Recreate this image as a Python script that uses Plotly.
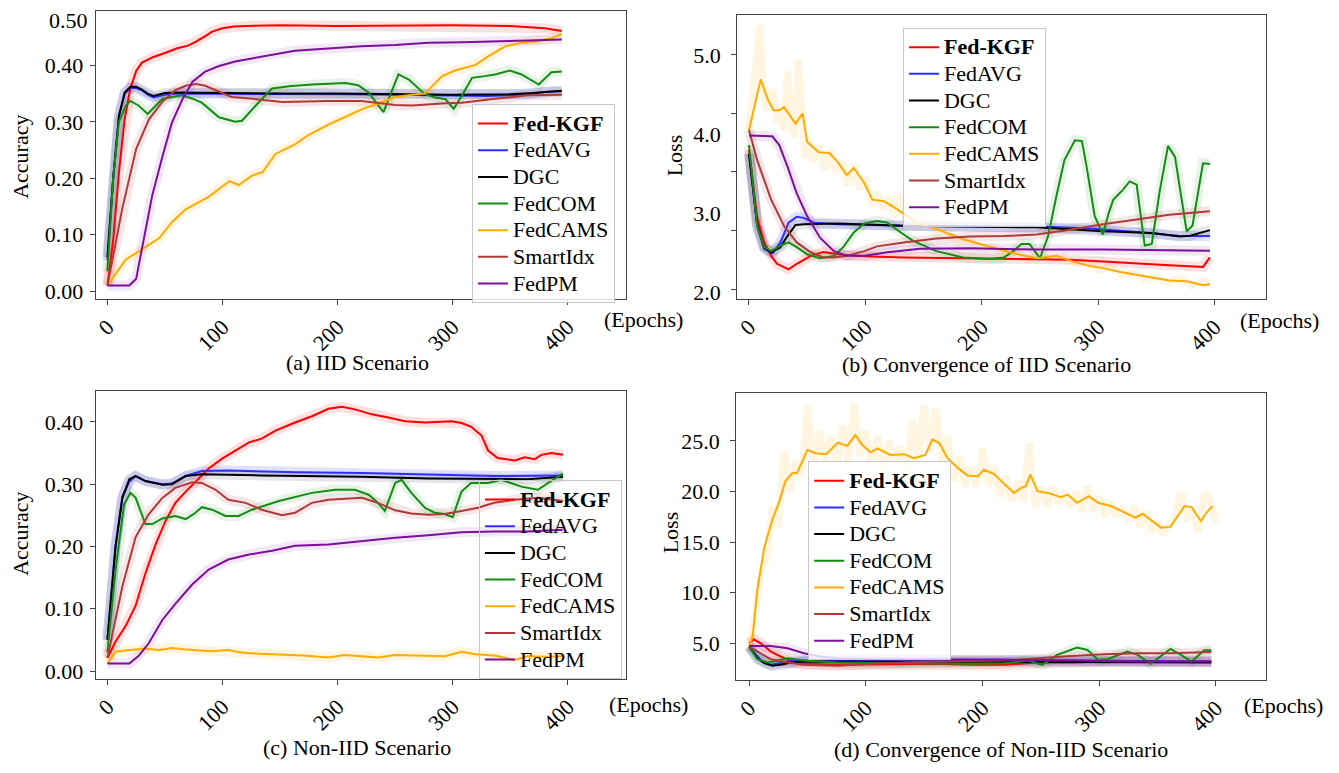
import plotly.graph_objects as go

FONT = "Liberation Serif"
PAGE_W, PAGE_H = 1339, 773
OFF = 8  # default page margin around the figure
W, H = PAGE_W - OFF, PAGE_H - OFF

METHODS = ["Fed-KGF", "FedAVG", "DGC", "FedCOM", "FedCAMS", "SmartIdx", "FedPM"]
COLORS = ["#ff0000", "#2f2fff", "#000000", "#148c14", "#ffab00", "#b03a3a", "#7d0f9c"]
BANDS = ["rgba(255,0,0,0.12)", "rgba(60,60,255,0.16)", "rgba(40,40,80,0.12)",
         "rgba(20,140,20,0.10)", "rgba(255,171,0,0.12)", "rgba(176,58,58,0.12)",
         "rgba(125,15,156,0.10)"]
X_TICKS = [0, 100, 200, 300, 400]

# ---------------- (a) IID accuracy ----------------
A_KGF_X = [0, 5, 10, 15, 20, 25, 30, 40, 50, 60, 70, 77, 85, 91, 100, 110, 120, 150, 200, 250, 300, 350, 380, 395]
A_KGF_Y = [0.01, 0.09, 0.21, 0.305, 0.36, 0.39, 0.405, 0.415, 0.422, 0.43, 0.435, 0.442, 0.452, 0.46, 0.466, 0.469, 0.470, 0.471, 0.470, 0.471, 0.471, 0.470, 0.466, 0.461]
A_AVG_X = [0, 5, 10, 15, 20, 25, 30, 35, 40, 45, 50, 60, 100, 150, 200, 250, 300, 330, 350, 365, 380, 395]
A_AVG_Y = [0.055, 0.2, 0.31, 0.35, 0.36, 0.36, 0.356, 0.348, 0.343, 0.345, 0.348, 0.35, 0.35, 0.349, 0.349, 0.348, 0.346, 0.346, 0.347, 0.349, 0.353, 0.354]
A_DGC_X = [0, 5, 10, 15, 20, 25, 30, 35, 40, 45, 50, 60, 100, 150, 200, 250, 300, 350, 370, 395]
A_DGC_Y = [0.06, 0.2, 0.31, 0.352, 0.362, 0.362, 0.357, 0.35, 0.346, 0.348, 0.351, 0.352, 0.351, 0.35, 0.35, 0.349, 0.348, 0.349, 0.351, 0.355]
A_COM_X = [0, 5, 10, 16, 20, 27, 35, 42, 48, 65, 74, 82, 97, 111, 117, 129, 143, 158, 178, 207, 218, 227, 240, 253, 262, 276, 285, 294, 301, 308, 317, 328, 337, 350, 360, 375, 386, 395]
A_COM_Y = [0.035, 0.2, 0.3, 0.329, 0.337, 0.329, 0.314, 0.329, 0.341, 0.347, 0.341, 0.334, 0.308, 0.30, 0.302, 0.329, 0.359, 0.363, 0.366, 0.369, 0.365, 0.352, 0.317, 0.384, 0.375, 0.349, 0.343, 0.34, 0.323, 0.346, 0.378, 0.381, 0.384, 0.391, 0.384, 0.366, 0.388, 0.389]
A_CAMS_X = [0, 16, 27, 39, 45, 56, 68, 77, 88, 106, 114, 126, 135, 146, 163, 175, 192, 207, 221, 236, 250, 265, 276, 291, 302, 320, 331, 346, 360, 372, 386, 395]
A_CAMS_Y = [0.01, 0.056, 0.07, 0.085, 0.094, 0.122, 0.145, 0.155, 0.167, 0.195, 0.188, 0.205, 0.211, 0.243, 0.26, 0.277, 0.295, 0.309, 0.322, 0.333, 0.344, 0.348, 0.35, 0.381, 0.391, 0.401, 0.416, 0.434, 0.44, 0.442, 0.448, 0.456]
A_SMART_X = [0, 13, 25, 36, 48, 59, 68, 77, 85, 97, 108, 126, 152, 192, 221, 250, 265, 294, 308, 337, 366, 395]
A_SMART_Y = [0.01, 0.147, 0.252, 0.304, 0.336, 0.356, 0.364, 0.367, 0.364, 0.354, 0.344, 0.341, 0.335, 0.337, 0.337, 0.33, 0.329, 0.333, 0.334, 0.341, 0.347, 0.348]
A_PM_X = [0, 19, 25, 30, 39, 48, 56, 65, 74, 85, 97, 111, 135, 163, 192, 221, 250, 279, 308, 337, 366, 395]
A_PM_Y = [0.01, 0.01, 0.022, 0.076, 0.17, 0.24, 0.298, 0.339, 0.371, 0.389, 0.399, 0.407, 0.416, 0.426, 0.43, 0.434, 0.436, 0.44, 0.441, 0.442, 0.444, 0.446]

# ---------------- (b) IID loss ----------------
B_KGF_X = [0, 7, 13, 19, 24, 34, 41, 53, 64, 76, 84, 99, 133, 190, 247, 276, 304, 333, 361, 390, 396]
B_KGF_Y = [3.8, 2.95, 2.63, 2.46, 2.36, 2.29, 2.36, 2.46, 2.51, 2.48, 2.47, 2.455, 2.44, 2.43, 2.42, 2.41, 2.39, 2.36, 2.34, 2.32, 2.44]
B_AVG_X = [0, 7, 13, 20, 27, 34, 41, 47, 56, 76, 133, 190, 247, 290, 333, 370, 396]
B_AVG_Y = [3.75, 2.84, 2.55, 2.49, 2.63, 2.88, 2.955, 2.94, 2.88, 2.86, 2.84, 2.83, 2.83, 2.81, 2.76, 2.71, 2.71]
B_DGC_X = [0, 7, 13, 19, 27, 33, 40, 47, 76, 133, 190, 247, 304, 347, 370, 379, 396]
B_DGC_Y = [3.75, 2.86, 2.57, 2.505, 2.57, 2.71, 2.85, 2.86, 2.87, 2.84, 2.83, 2.82, 2.77, 2.75, 2.705, 2.715, 2.785]
B_COM_X = [0, 7, 13, 19, 27, 34, 41, 50, 61, 73, 81, 90, 99, 110, 119, 127, 141, 161, 184, 207, 219, 227, 234, 241, 250, 257, 264, 271, 280, 286, 290, 297, 304, 309, 313, 321, 327, 333, 340, 346, 353, 360, 366, 376, 381, 390, 396]
B_COM_Y = [3.86, 2.84, 2.57, 2.52, 2.59, 2.63, 2.57, 2.48, 2.43, 2.46, 2.57, 2.755, 2.87, 2.90, 2.88, 2.79, 2.65, 2.52, 2.44, 2.42, 2.44, 2.52, 2.61, 2.61, 2.43, 2.71, 3.21, 3.67, 3.92, 3.91, 3.59, 2.96, 2.73, 3.0, 3.17, 3.29, 3.40, 3.36, 2.59, 2.61, 3.29, 3.85, 3.71, 2.77, 2.84, 3.63, 3.62]
B_CAMS_X = [0, 10, 16, 21, 26, 30, 40, 46, 50, 60, 69, 76, 84, 90, 99, 106, 116, 127, 144, 161, 184, 207, 224, 239, 247, 264, 276, 290, 304, 319, 333, 347, 361, 376, 390, 396]
B_CAMS_Y = [4.05, 4.69, 4.44, 4.3, 4.3, 4.34, 4.13, 4.26, 3.9, 3.77, 3.76, 3.65, 3.48, 3.57, 3.38, 3.17, 3.15, 3.05, 2.88, 2.8, 2.67, 2.57, 2.505, 2.455, 2.43, 2.46, 2.4, 2.34, 2.305, 2.255, 2.22, 2.18, 2.15, 2.14, 2.09, 2.1]
B_CAMS_RAW_X = [0, 3, 6, 9, 12, 15, 18, 21, 24, 27, 30, 33, 36, 39, 42, 45, 48, 51, 55, 60, 65, 70, 75, 80, 85, 90, 95, 100, 105, 110, 115, 120, 125, 130, 135, 140, 145, 150, 160, 170, 180, 190, 200, 210, 220, 230, 240, 250, 260, 270, 280, 290, 300, 310, 320, 330, 340, 350, 360, 370, 380, 390, 396]
B_CAMS_RAW_Y = [4.05, 4.4, 4.9, 5.37, 4.6, 4.3, 4.5, 4.55, 4.15, 4.35, 4.05, 4.79, 4.2, 3.95, 4.94, 4.4, 3.7, 3.95, 3.65, 3.85, 3.55, 3.8, 3.5, 3.65, 3.35, 3.62, 3.3, 3.45, 3.1, 3.27, 3.05, 3.2, 2.95, 3.25, 2.9, 3.1, 2.8, 2.95, 2.75, 2.78, 2.62, 2.65, 2.55, 2.58, 2.5, 2.52, 2.42, 2.47, 2.42, 2.45, 2.36, 2.38, 2.28, 2.32, 2.22, 2.25, 2.16, 2.2, 2.12, 2.18, 2.08, 2.15, 2.1]
B_SMART_X = [0, 7, 19, 30, 41, 53, 64, 73, 84, 99, 110, 133, 161, 190, 219, 247, 276, 304, 333, 361, 396]
B_SMART_Y = [4.05, 3.67, 3.17, 2.84, 2.63, 2.505, 2.44, 2.44, 2.46, 2.52, 2.58, 2.63, 2.68, 2.705, 2.71, 2.73, 2.79, 2.86, 2.92, 2.98, 3.025]
B_PM_X = [0, 20, 26, 33, 41, 50, 61, 73, 84, 99, 119, 147, 190, 247, 304, 361, 396]
B_PM_Y = [3.98, 3.97, 3.86, 3.59, 3.25, 2.96, 2.69, 2.52, 2.46, 2.46, 2.505, 2.55, 2.555, 2.54, 2.54, 2.53, 2.525]

# ---------------- (c) Non-IID accuracy ----------------
C_KGF_X = [0, 7, 16, 24.5, 33, 42, 50.5, 59, 68, 76.5, 88, 99.6, 111, 123, 134, 146, 163, 177.6, 192, 203.6, 215, 229.6, 244, 258.5, 276, 290, 299, 307.6, 316, 325, 330.7, 339, 354, 362.5, 371, 377, 385.6, 395.7]
C_KGF_Y = [0.021, 0.047, 0.073, 0.105, 0.157, 0.204, 0.241, 0.27, 0.288, 0.304, 0.325, 0.341, 0.354, 0.367, 0.373, 0.386, 0.399, 0.409, 0.421, 0.424, 0.42, 0.412, 0.407, 0.401, 0.399, 0.40, 0.401, 0.398, 0.392, 0.378, 0.354, 0.342, 0.338, 0.343, 0.34, 0.347, 0.35, 0.347]
C_AVG_X = [0, 7, 13, 19, 24.5, 33, 47.7, 56, 68, 82, 105, 163, 221, 279, 336, 395.7]
C_AVG_Y = [0.05, 0.2, 0.28, 0.304, 0.313, 0.305, 0.30, 0.301, 0.313, 0.321, 0.322, 0.319, 0.318, 0.315, 0.313, 0.314]
C_DGC_X = [0, 7, 13, 19, 24.5, 33, 47.7, 56, 68, 82, 134, 221, 279, 336, 365, 395.7]
C_DGC_Y = [0.05, 0.199, 0.278, 0.308, 0.313, 0.305, 0.299, 0.30, 0.313, 0.316, 0.314, 0.312, 0.309, 0.308, 0.308, 0.312]
C_COM_X = [0, 7, 14.4, 20, 24.5, 33, 39, 47.7, 59, 68, 76.5, 82, 91, 102.5, 114, 125.6, 149, 177.6, 198, 215, 227, 235, 241, 250, 255.6, 264, 276, 284.5, 293, 300, 307.6, 316, 330.7, 342, 359.6, 374, 383, 395.7]
C_COM_Y = [0.03, 0.162, 0.267, 0.286, 0.278, 0.236, 0.236, 0.245, 0.249, 0.244, 0.254, 0.263, 0.259, 0.249, 0.249, 0.259, 0.273, 0.286, 0.291, 0.291, 0.283, 0.27, 0.257, 0.302, 0.307, 0.286, 0.262, 0.254, 0.252, 0.247, 0.288, 0.302, 0.302, 0.307, 0.296, 0.291, 0.302, 0.317]
C_CAMS_X = [0, 7, 19, 33, 45, 56, 66, 76.5, 90, 105, 112, 120, 135, 149, 170, 192, 206, 221, 235, 250, 265, 279, 293, 307.6, 320, 336, 354, 365, 380, 395.7]
C_CAMS_Y = [0.012, 0.031, 0.034, 0.036, 0.034, 0.037, 0.035, 0.034, 0.032, 0.034, 0.031, 0.029, 0.028, 0.026, 0.025, 0.022, 0.026, 0.024, 0.022, 0.026, 0.025, 0.025, 0.024, 0.031, 0.027, 0.025, 0.018, 0.024, 0.023, 0.024]
C_SMART_X = [0, 13, 24.5, 36, 47.7, 59, 73.6, 82, 94, 105, 120, 134, 151.6, 163, 177.6, 192, 221, 235, 250, 264, 279, 293, 307.6, 322, 336, 354, 374, 395.7]
C_SMART_Y = [0.021, 0.136, 0.215, 0.252, 0.278, 0.294, 0.303, 0.302, 0.291, 0.275, 0.27, 0.259, 0.25, 0.254, 0.27, 0.275, 0.278, 0.27, 0.258, 0.253, 0.251, 0.252, 0.257, 0.262, 0.27, 0.275, 0.278, 0.273]
C_PM_X = [0, 19, 27, 36, 47.7, 59, 73.6, 88, 105, 123, 143, 163, 192, 221, 250, 279, 307.6, 336, 365, 395.7]
C_PM_Y = [0.012, 0.012, 0.024, 0.045, 0.082, 0.108, 0.139, 0.163, 0.179, 0.187, 0.193, 0.201, 0.203, 0.209, 0.214, 0.218, 0.223, 0.224, 0.224, 0.227]

# ---------------- (d) Non-IID loss ----------------
D_KGF_X = [0, 4, 10, 18.6, 33, 47, 76, 133, 161, 190, 219, 247, 276, 304, 333, 361, 396]
D_KGF_Y = [5.0, 5.39, 5.0, 4.18, 3.36, 2.97, 2.87, 2.97, 2.97, 2.87, 2.87, 3.1, 3.1, 3.2, 3.2, 3.2, 3.2]
D_AVG_X = [0, 10, 18.6, 33, 47, 104, 219, 333, 396]
D_AVG_Y = [4.67, 3.36, 2.87, 3.2, 3.29, 3.36, 3.36, 3.29, 3.2]
D_DGC_X = [0, 7, 13, 20, 27, 36, 47, 104, 219, 333, 396]
D_DGC_Y = [4.67, 3.52, 3.03, 2.77, 2.87, 3.1, 3.2, 3.2, 3.2, 3.13, 3.1]
D_COM_X = [0, 7, 16, 21, 33, 47, 76, 133, 190, 219, 239, 251, 264, 281, 290, 299, 307, 324, 333, 344, 361, 370, 379, 390, 396]
D_COM_Y = [4.67, 3.42, 3.1, 3.2, 3.52, 3.29, 3.1, 3.03, 2.97, 3.03, 3.29, 2.87, 3.85, 4.57, 4.34, 3.36, 3.42, 4.18, 3.85, 2.97, 4.44, 3.85, 3.2, 4.31, 4.31]
D_CAMS_X = [0, 3, 7, 13, 20, 26, 31, 37, 41, 50, 57, 66, 76, 84, 91, 97, 104, 110, 121, 133, 141, 151, 157, 163, 170, 179, 187, 196, 201, 210, 219, 227, 233, 237, 241, 247, 256, 267, 273, 281, 291, 299, 310, 321, 331, 337, 347, 353, 361, 373, 379, 387, 393, 397]
D_CAMS_Y = [4.67, 5.65, 10.22, 14.47, 17.25, 19.05, 21.01, 21.82, 21.82, 24.11, 23.78, 23.69, 24.83, 24.5, 25.58, 24.6, 23.88, 24.27, 23.62, 23.69, 23.29, 23.62, 25.16, 24.76, 23.29, 22.31, 21.59, 21.5, 22.15, 21.73, 20.68, 19.86, 20.35, 20.52, 21.66, 20.03, 19.86, 19.44, 19.7, 18.88, 19.54, 18.88, 18.56, 18.0, 17.41, 17.8, 16.92, 16.43, 16.5, 18.56, 18.46, 17.08, 18.07, 18.56]
D_CAMS_RAW_X = [0, 5, 10, 15, 20, 25, 30, 35, 40, 45, 50, 55, 60, 65, 70, 75, 80, 85, 90, 95, 100, 105, 110, 115, 120, 125, 130, 135, 140, 145, 150, 155, 160, 165, 170, 175, 180, 185, 190, 195, 200, 205, 210, 215, 220, 225, 230, 235, 240, 245, 250, 255, 260, 265, 270, 275, 280, 285, 290, 295, 300, 305, 310, 315, 320, 325, 330, 335, 340, 345, 350, 355, 360, 365, 370, 375, 380, 385, 390, 395, 400]
D_CAMS_RAW_Y = [4.7, 7.5, 12.0, 13.5, 18.5, 16.5, 24.0, 20.0, 23.0, 21.5, 28.4, 22.5, 26.0, 23.0, 25.5, 22.5, 26.5, 23.0, 28.7, 23.5, 26.0, 22.5, 25.5, 22.0, 25.0, 22.5, 24.5, 22.0, 27.0, 23.0, 28.5, 24.0, 28.2, 23.0, 25.5, 21.0, 23.5, 20.5, 22.5, 20.5, 24.3, 20.5, 22.5, 19.5, 21.5, 19.0, 21.0, 19.0, 24.8, 18.5, 20.5, 18.5, 20.5, 18.8, 20.0, 18.5, 20.0, 18.0, 20.5, 18.0, 19.5, 17.5, 19.0, 17.5, 18.5, 17.0, 18.5, 16.5, 18.0, 16.0, 17.0, 15.8, 16.8, 17.5, 19.9, 17.5, 18.0, 16.0, 19.9, 19.0, 17.0]
D_SMART_X = [0, 18.6, 33, 47, 76, 104, 133, 161, 219, 247, 276, 304, 333, 361, 396]
D_SMART_Y = [4.67, 3.42, 3.1, 2.87, 2.77, 2.97, 3.1, 3.2, 3.29, 3.52, 3.75, 3.91, 4.01, 4.01, 4.14]
D_PM_X = [0, 18.6, 33, 47, 61, 76, 104, 161, 219, 276, 333, 396]
D_PM_Y = [4.73, 4.73, 4.5, 4.01, 3.69, 3.52, 3.42, 3.42, 3.36, 3.29, 3.2, 3.2]

A_TICKS = [0.0, 0.1, 0.2, 0.3, 0.4]
A_TOP_LABEL = "0.50"
B_TICKS = [2.0, 3.0, 4.0, 5.0]
B_MINOR = [2.04, 2.78, 3.52, 4.26, 5.0]
C_TICKS = [0.0, 0.1, 0.2, 0.3, 0.4]
D_TICKS = [5.0, 10.0, 15.0, 20.0, 25.0]


def px_x(v):
    return (v - OFF) / W


def px_y(v):
    return 1 - (v - OFF) / H


panels = [
    dict(xa="x", ya="y", leg="legend",
         series=[(A_KGF_X, A_KGF_Y), (A_AVG_X, A_AVG_Y), (A_DGC_X, A_DGC_Y), (A_COM_X, A_COM_Y),
                 (A_CAMS_X, A_CAMS_Y), (A_SMART_X, A_SMART_Y), (A_PM_X, A_PM_Y)],
         raw={}),
    dict(xa="x2", ya="y2", leg="legend2",
         series=[(B_KGF_X, B_KGF_Y), (B_AVG_X, B_AVG_Y), (B_DGC_X, B_DGC_Y), (B_COM_X, B_COM_Y),
                 (B_CAMS_X, B_CAMS_Y), (B_SMART_X, B_SMART_Y), (B_PM_X, B_PM_Y)],
         raw={4: (B_CAMS_RAW_X, B_CAMS_RAW_Y)}),
    dict(xa="x3", ya="y3", leg="legend3",
         series=[(C_KGF_X, C_KGF_Y), (C_AVG_X, C_AVG_Y), (C_DGC_X, C_DGC_Y), (C_COM_X, C_COM_Y),
                 (C_CAMS_X, C_CAMS_Y), (C_SMART_X, C_SMART_Y), (C_PM_X, C_PM_Y)],
         raw={}),
    dict(xa="x4", ya="y4", leg="legend4",
         series=[(D_KGF_X, D_KGF_Y), (D_AVG_X, D_AVG_Y), (D_DGC_X, D_DGC_Y), (D_COM_X, D_COM_Y),
                 (D_CAMS_X, D_CAMS_Y), (D_SMART_X, D_SMART_Y), (D_PM_X, D_PM_Y)],
         raw={4: (D_CAMS_RAW_X, D_CAMS_RAW_Y)}),
]

fig = go.Figure()
for p in panels:
    for i, (xs, ys) in enumerate(p["series"]):
        if i in p["raw"]:
            rx, ry = p["raw"][i]
            fig.add_trace(go.Scatter(x=rx, y=ry, mode="lines", xaxis=p["xa"], yaxis=p["ya"],
                                     line=dict(color=BANDS[i], width=7), hoverinfo="skip",
                                     showlegend=False))
        else:
            fig.add_trace(go.Scatter(x=xs, y=ys, mode="lines", xaxis=p["xa"], yaxis=p["ya"],
                                     line=dict(color=BANDS[i], width=10), hoverinfo="skip",
                                     showlegend=False))
    for i, (xs, ys) in enumerate(p["series"]):
        label = METHODS[i]
        if i == 0:
            label = "<b>" + label + "</b>"
        name = '<span style="font-size:22px">' + label + "</span>"
        fig.add_trace(go.Scatter(x=xs, y=ys, mode="lines", xaxis=p["xa"], yaxis=p["ya"],
                                 line=dict(color=COLORS[i], width=2), name=name,
                                 legend=p["leg"]))

AX_COLOR = "#444444"
TICKFONT = dict(family=FONT, size=22, color="black")


def xaxis(dom, rng, anchor):
    return dict(domain=dom, range=rng, anchor=anchor, tickmode="array", tickvals=X_TICKS,
                ticktext=[str(v) for v in X_TICKS], tickangle=-45, ticks="outside",
                ticklen=5, tickcolor=AX_COLOR, tickfont=TICKFONT, showline=True,
                linecolor=AX_COLOR, linewidth=1.2, mirror=True, showgrid=False,
                zeroline=False)


def yaxis(dom, rng, anchor, vals, fmt, standoff=2, ticks="outside"):
    return dict(domain=dom, range=rng, anchor=anchor, tickmode="array", tickvals=vals,
                ticktext=[fmt.format(v) for v in vals], ticks=ticks, ticklen=5,
                tickcolor=AX_COLOR, tickfont=TICKFONT, showline=True, linecolor=AX_COLOR,
                linewidth=1.2, mirror=True, showgrid=False, zeroline=False,
                ticklabelstandoff=standoff)


yb = yaxis([px_y(301.7), px_y(15.3)], [1.91, 5.50], "x2", B_TICKS, "{:.1f}", standoff=11, ticks="")
yb["minor"] = dict(tickmode="array", tickvals=B_MINOR, ticks="outside", ticklen=5,
                   tickcolor=AX_COLOR, showgrid=False)


def legend(x, y, bg):
    return dict(x=px_x(x), y=px_y(y), xanchor="left", yanchor="top", bgcolor=bg,
                bordercolor="#c8c8c8", borderwidth=1,
                font=dict(family=FONT, size=18.2, color="black"), tracegroupgap=0)


ann = []


def text(s, x, y, angle=0, xanchor="center"):
    ann.append(dict(text=s, x=px_x(x), y=px_y(y), xref="paper", yref="paper",
                    xanchor=xanchor, yanchor="middle", showarrow=False, textangle=angle,
                    font=dict(family=FONT, size=22, color="black")))


text(A_TOP_LABEL, 87, 21, xanchor="right")
text("Accuracy", 18, 158, -90)
text("Loss", 673, 157, -90)
text("Accuracy", 18, 538, -90)
text("Loss", 669, 537, -90)
text("(Epochs)", 642, 322)
text("(Epochs)", 1279, 323)
text("(Epochs)", 647, 710)
text("(Epochs)", 1283, 711)
text("(a) IID Scenario", 355, 365)
text("(b) Convergence of IID Scenario", 986, 367)
text("(c) Non-IID Scenario", 355, 753)
text("(d) Convergence of Non-IID Scenario", 1000, 755)

fig.update_layout(
    width=W, height=H, margin=dict(l=0, r=0, t=0, b=0),
    paper_bgcolor="white", plot_bgcolor="white",
    font=dict(family=FONT, size=22, color="black"),
    xaxis=xaxis([px_x(93), px_x(624)], [-10.1, 450.5], "y"),
    yaxis=yaxis([px_y(301.7), px_y(11)], [-0.0148, 0.4965], "x", A_TICKS, "{:.2f}"),
    xaxis2=xaxis([px_x(736), px_x(1266)], [-10.0, 444.3], "y2"),
    yaxis2=yb,
    xaxis3=xaxis([px_x(93), px_x(624)], [-10.1, 450.2], "y3"),
    yaxis3=yaxis([px_y(684.5), px_y(393.7)], [-0.013, 0.45], "x3", C_TICKS, "{:.2f}"),
    xaxis4=xaxis([px_x(735), px_x(1266)], [-10.9, 443.0], "y4"),
    yaxis4=yaxis([px_y(685.7), px_y(396)], [1.33, 29.74], "x4", D_TICKS, "{:.1f}", standoff=6),
    legend=legend(470, 105, "rgba(255,255,255,0.8)"),
    legend2=legend(902, 28, "rgba(255,255,255,0.8)"),
    legend3=legend(477, 484, "rgba(255,255,255,0)"),
    legend4=legend(807, 465, "rgba(255,255,255,0.8)"),
    annotations=ann,
    showlegend=True,
)

fig.write_html("out.html")
